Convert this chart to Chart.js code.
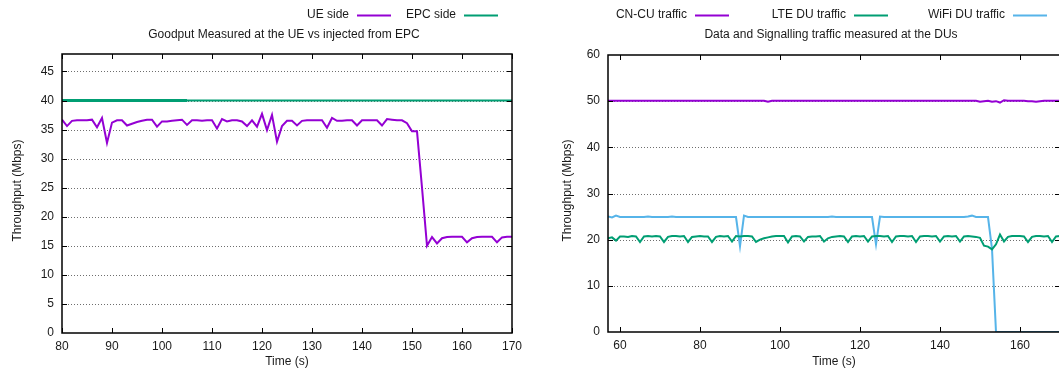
<!DOCTYPE html>
<html>
<head>
<meta charset="utf-8">
<script src="https://cdn.jsdelivr.net/npm/chart.js@4.4.1/dist/chart.umd.min.js"></script>
<style>
  html, body { margin: 0; padding: 0; background: #fff; width: 1059px; height: 374px; overflow: hidden; }
  #wrap { position: relative; width: 1059px; height: 374px; overflow: hidden; }
  canvas { position: absolute; top: 0; }
  #left { left: 0; }
  #right { left: 530px; }
</style>
</head>
<body>
<div id="wrap">
  <canvas id="left" width="530" height="374"></canvas>
  <canvas id="right" width="545" height="374"></canvas>
</div>
<script>
// ---- Goodput panel ----
const goodputTimes = [80,81,82,83,84,85,86,87,88,89,90,91,92,93,94,95,96,97,98,99,
  100,101,102,103,104,105,106,107,108,109,110,111,112,113,114,115,116,117,118,119,
  120,121,122,123,124,125,126,127,128,129,130,131,132,133,134,135,136,137,138,139,
  140,141,142,143,144,145,146,147,148,149,150,151,152,153,154,155,156,157,158,159,
  160,161,162,163,164,165,166,167,168,169,170];
const ueSide = [36.7,35.6,36.5,36.6,36.6,36.6,36.7,35.4,37.0,32.7,36.2,36.6,36.6,35.7,36.0,36.3,36.5,36.7,36.7,35.5,
  36.4,36.4,36.5,36.6,36.7,35.8,36.6,36.6,36.5,36.6,36.6,35.2,36.8,36.4,36.6,36.6,36.4,35.6,36.6,35.5,
  37.7,34.9,37.5,32.9,35.6,36.5,36.5,35.7,36.5,36.6,36.6,36.6,36.6,35.3,37.0,36.5,36.5,36.6,36.6,35.7,
  36.6,36.6,36.6,36.6,35.7,36.8,36.7,36.6,36.6,36.1,34.7,34.7,25.0,15.0,16.5,15.4,16.3,16.5,16.55,16.55,
  16.55,15.6,16.3,16.5,16.55,16.55,16.55,15.6,16.45,16.55,16.55];
const epcSide = goodputTimes.map(() => 40);
const goodputXTicks = [80,90,100,110,120,130,140,150,160,170];
const goodputYTicks = [0,5,10,15,20,25,30,35,40,45];

// ---- DU traffic panel ----
const duTimes = [57,58,59,60,61,62,63,64,65,66,67,68,69,70,71,72,73,74,75,76,77,78,79,
  80,81,82,83,84,85,86,87,88,89,90,91,92,93,94,95,96,97,98,99,
  100,101,102,103,104,105,106,107,108,109,110,111,112,113,114,115,116,117,118,119,
  120,121,122,123,124,125,126,127,128,129,130,131,132,133,134,135,136,137,138,139,
  140,141,142,143,144,145,146,147,148,149,150,151,152,153,154,155,156,157,158,159,
  160,161,162,163,164,165,166,167,168,169,170];
const cnCu = [50.1,50.1,50.1,50.1,50.1,50.1,50.1,50.1,50.1,50.1,50.1,50.1,50.1,50.1,50.1,50.1,50.1,50.1,50.1,50.1,50.1,50.1,50.1,
  50.1,50.1,50.1,50.1,50.1,50.1,50.1,50.1,50.1,50.1,50.1,50.1,50.1,50.1,50.1,50.1,50.1,49.9,50.1,50.1,
  50.1,50.1,50.1,50.1,50.1,50.1,50.1,50.1,50.1,50.1,50.1,50.1,50.1,50.1,50.1,50.1,50.1,50.1,50.1,50.1,
  50.1,50.1,50.1,50.1,50.1,50.1,50.1,50.1,50.1,50.1,50.1,50.1,50.1,50.1,50.1,50.1,50.1,50.1,50.1,50.1,
  50.1,50.1,50.1,50.1,50.1,50.1,50.1,50.1,50.1,50.1,49.9,50.0,50.1,49.9,50.0,49.7,50.2,50.1,50.1,50.1,
  50.1,50.1,50.0,50.0,49.9,50.0,50.1,50.1,50.1,50.1,50.1];
const lteDu = [20.3,20.5,19.8,20.7,20.7,20.6,20.8,20.7,19.5,20.7,20.8,20.7,20.8,20.7,19.5,20.6,20.8,20.8,20.7,20.8,19.5,20.6,20.7,
  20.8,20.7,20.7,19.5,20.6,20.8,20.7,20.8,19.6,20.8,20.7,20.8,20.8,20.7,19.5,20.0,20.3,20.5,20.7,20.8,
  20.8,20.8,19.4,20.7,20.8,20.7,19.6,20.6,20.7,20.7,20.8,19.6,20.3,20.6,20.7,20.8,20.7,19.5,20.7,20.8,
  20.7,20.8,19.6,20.7,20.8,20.8,20.7,20.8,19.5,20.7,20.8,20.8,20.7,20.8,19.5,20.7,20.8,20.8,20.7,20.8,
  19.6,20.7,20.8,20.7,20.8,19.6,20.7,20.8,20.7,20.6,20.4,18.7,18.5,17.9,19.0,21.1,19.6,20.6,20.8,20.8,
  20.8,20.7,19.5,20.6,20.8,20.8,20.7,20.8,19.5,20.7,20.8];
const wifiDu = [25.0,24.8,25.2,24.9,24.9,24.9,24.9,24.9,24.9,24.9,25.0,24.9,24.9,24.9,24.9,24.9,25.0,24.9,24.9,24.9,24.9,24.9,24.9,
  24.9,24.9,24.9,24.9,24.9,24.9,24.9,24.9,24.9,24.9,18.6,25.2,24.9,24.9,24.9,24.9,24.9,24.9,24.9,24.9,
  24.9,24.9,24.9,24.9,24.9,24.9,24.9,24.9,24.9,24.9,24.9,24.9,24.9,25.0,24.9,24.9,24.9,24.9,24.9,24.9,
  24.9,24.9,24.9,24.9,19.0,25.0,24.9,24.9,24.9,24.9,24.9,24.9,24.9,24.9,24.9,24.9,24.9,24.9,24.9,24.9,
  24.9,24.9,24.9,24.9,24.9,24.9,24.9,25.0,25.2,24.9,24.9,24.9,24.9,18.0,0,0,0,0,0,0,
  0,0,0,0,0,0,0,0,0,0,0];
const duXTicks = [60,80,100,120,140,160];
const duYTicks = [0,10,20,30,40,50,60];

const PURPLE = '#9400d3';
const GREEN = '#009e73';
const BLUE = '#56b4e9';
const FONT = '"Liberation Sans", Arial, Helvetica, sans-serif';
const TEXT = '#1a1a1a';

const pairs = (xs, ys) => xs.map((x, i) => ({ x, y: ys[i] }));

// Gnuplot-like frame: dotted horizontal grid, solid border, inward ticks on all sides,
// plus the key, the title and the axis titles.
const framePlugin = {
  id: 'frame',
  beforeDatasetsDraw(chart, args, o) {
    const { ctx, chartArea: a, scales: { y } } = chart;
    ctx.save();
    ctx.strokeStyle = '#6e6e6e';
    ctx.lineWidth = 1;
    ctx.setLineDash([1, 2]);
    for (const v of o.yGrid) {
      const py = Math.round(y.getPixelForValue(v)) + 0.5;
      ctx.beginPath();
      ctx.moveTo(a.left, py);
      ctx.lineTo(a.right, py);
      ctx.stroke();
    }
    ctx.restore();
  },
  afterDatasetsDraw(chart, args, o) {
    const { ctx, chartArea: a, scales: { x, y } } = chart;
    ctx.save();
    ctx.strokeStyle = '#000';
    ctx.lineWidth = 1.5;
    ctx.strokeRect(a.left, a.top, a.right - a.left, a.bottom - a.top);
    ctx.lineWidth = 1;
    const L = 5;
    ctx.beginPath();
    for (const v of o.xTicks) {
      const px = Math.round(x.getPixelForValue(v)) + 0.5;
      ctx.moveTo(px, a.bottom); ctx.lineTo(px, a.bottom - L);
      ctx.moveTo(px, a.top); ctx.lineTo(px, a.top + L);
    }
    for (const v of o.yTicks) {
      const py = Math.round(y.getPixelForValue(v)) + 0.5;
      ctx.moveTo(a.left, py); ctx.lineTo(a.left + L, py);
      ctx.moveTo(a.right, py); ctx.lineTo(a.right - L, py);
    }
    ctx.stroke();
    ctx.restore();
  },
  afterDraw(chart, args, o) {
    const { ctx, chartArea: a } = chart;
    ctx.save();
    ctx.fillStyle = TEXT;
    ctx.font = '12px ' + FONT;
    ctx.textBaseline = 'middle';
    // key
    for (const k of o.key) {
      ctx.textAlign = 'right';
      ctx.fillStyle = TEXT;
      ctx.fillText(k.label, k.textEnd, o.keyY);
      ctx.strokeStyle = k.color;
      ctx.lineWidth = 2;
      ctx.beginPath();
      ctx.moveTo(k.textEnd + 8, o.keyY + 0.5);
      ctx.lineTo(k.textEnd + 42, o.keyY + 0.5);
      ctx.stroke();
    }
    // title
    ctx.textAlign = 'center';
    ctx.fillText(o.title, o.titleX, o.titleY);
    // x axis title
    ctx.fillText(o.xTitle, (a.left + a.right) / 2 + o.xTitleShift, 362);
    // y axis title
    ctx.translate(o.yTitleX, (a.top + a.bottom) / 2 - 3);
    ctx.rotate(-Math.PI / 2);
    ctx.fillText(o.yTitle, 0, 0);
    ctx.restore();
  }
};

function makeScales(xMin, xMax, xTicks, yMin, yMax, yTicks, yWidth, xHeight) {
  const tickFont = { family: FONT, size: 12 };
  return {
    x: {
      type: 'linear', min: xMin, max: xMax,
      grid: { display: false, drawTicks: false },
      border: { display: false },
      afterBuildTicks: s => { s.ticks = xTicks.map(v => ({ value: v })); },
      afterFit: s => { s.height = xHeight; },
      ticks: { color: TEXT, font: tickFont, padding: 6, autoSkip: false, maxRotation: 0 }
    },
    y: {
      type: 'linear', min: yMin, max: yMax,
      grid: { display: false, drawTicks: false },
      border: { display: false },
      afterBuildTicks: s => { s.ticks = yTicks.map(v => ({ value: v })); },
      afterFit: s => { s.width = yWidth; },
      ticks: { color: TEXT, font: tickFont, padding: 8, autoSkip: false }
    }
  };
}

const common = {
  responsive: false,
  animation: false,
  devicePixelRatio: 1,
  events: [],
  elements: { point: { radius: 0 }, line: { tension: 0, borderWidth: 2 } }
};

new Chart(document.getElementById('left'), {
  type: 'line',
  data: {
    datasets: [
      { label: 'UE side', data: pairs(goodputTimes, ueSide), borderColor: PURPLE },
      { label: 'EPC side', data: pairs(goodputTimes, epcSide), borderColor: GREEN,
        segment: { borderWidth: c => (c.p0.parsed.x < 105 ? 3 : 2) } }
    ]
  },
  options: Object.assign({}, common, {
    layout: { padding: { left: 0, right: 18, top: 54, bottom: 0 } },
    scales: makeScales(80, 170, goodputXTicks, 0, 48, goodputYTicks, 62, 41),
    plugins: {
      legend: { display: false },
      tooltip: { enabled: false },
      frame: {
        yGrid: goodputYTicks.filter(v => v > 0),
        xTicks: goodputXTicks, yTicks: goodputYTicks.filter(v => v > 0),
        keyY: 15,
        key: [ { label: 'UE side', color: PURPLE, textEnd: 349 },
               { label: 'EPC side', color: GREEN, textEnd: 456 } ],
        title: 'Goodput Measured at the UE vs injected from EPC', titleX: 284, titleY: 35,
        xTitle: 'Time (s)', xTitleShift: 0,
        yTitle: 'Throughput (Mbps)', yTitleX: 18
      }
    }
  }),
  plugins: [framePlugin]
});

new Chart(document.getElementById('right'), {
  type: 'line',
  data: {
    datasets: [
      { label: 'CN-CU traffic', data: pairs(duTimes, cnCu), borderColor: PURPLE },
      { label: 'LTE DU traffic', data: pairs(duTimes, lteDu), borderColor: GREEN },
      { label: 'WiFi DU traffic', data: pairs(duTimes, wifiDu), borderColor: BLUE }
    ]
  },
  options: Object.assign({}, common, {
    layout: { padding: { left: 0, right: 15, top: 55, bottom: 0 } },
    scales: makeScales(57, 170, duXTicks, 0, 60, duYTicks, 78, 42),
    plugins: {
      legend: { display: false },
      tooltip: { enabled: false },
      frame: {
        yGrid: duYTicks.filter(v => v > 0 && v < 60),
        xTicks: duXTicks, yTicks: duYTicks.filter(v => v > 0 && v < 60),
        keyY: 15,
        key: [ { label: 'CN-CU traffic', color: PURPLE, textEnd: 157 },
               { label: 'LTE DU traffic', color: GREEN, textEnd: 316 },
               { label: 'WiFi DU traffic', color: BLUE, textEnd: 475 } ],
        title: 'Data and Signalling traffic measured at the DUs', titleX: 301, titleY: 35,
        xTitle: 'Time (s)', xTitleShift: 0,
        yTitle: 'Throughput (Mbps)', yTitleX: 38
      }
    }
  }),
  plugins: [framePlugin]
});
</script>
</body>
</html>
